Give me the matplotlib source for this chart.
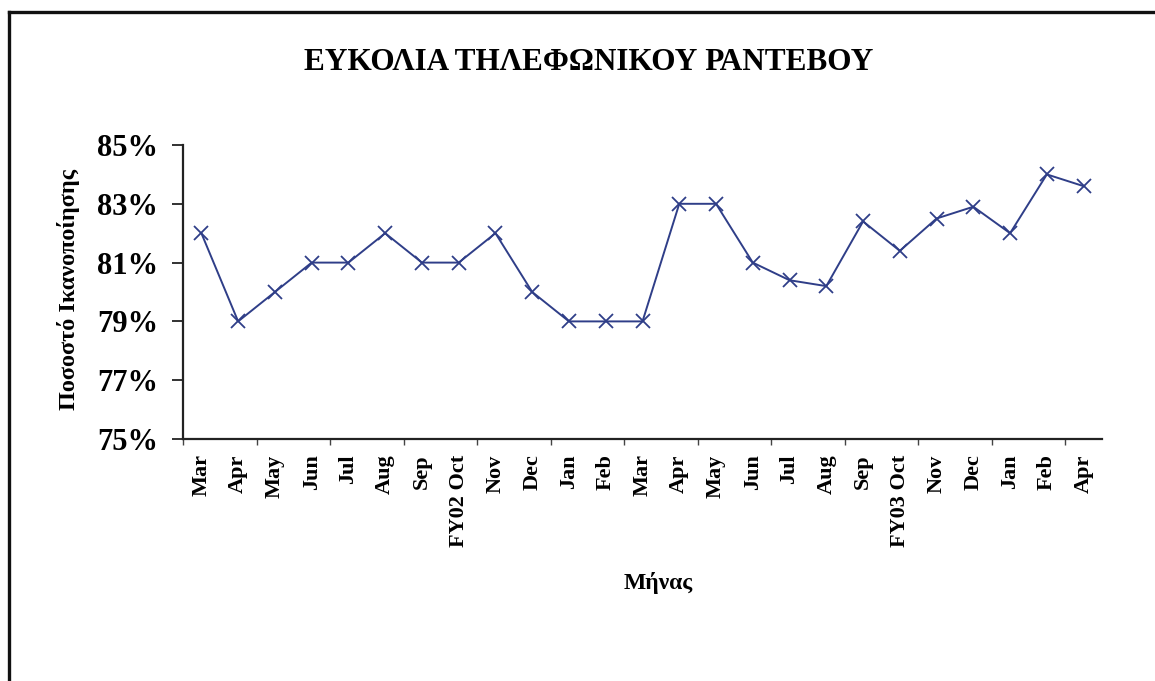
import matplotlib
matplotlib.use("Agg")
import matplotlib.pyplot as plt
from matplotlib.lines import Line2D
from matplotlib.ticker import FixedLocator, FuncFormatter

months = ["Mar", "Apr", "May", "Jun", "Jul", "Aug", "Sep", "FY02 Oct", "Nov",
          "Dec", "Jan", "Feb", "Mar", "Apr", "May", "Jun", "Jul", "Aug", "Sep",
          "FY03 Oct", "Nov", "Dec", "Jan", "Feb", "Apr"]
satisfaction = [82.0, 79.0, 80.0, 81.0, 81.0, 82.0, 81.0, 81.0, 82.0,
                80.0, 79.0, 79.0, 79.0, 83.0, 83.0, 81.0, 80.4, 80.2, 82.4,
                81.4, 82.5, 82.9, 82.0, 84.0, 83.6]
y_ticks = [75, 77, 79, 81, 83, 85]

title = "ΕΥΚΟΛΙΑ ΤΗΛΕΦΩΝΙΚΟΥ ΡΑΝΤΕΒΟΥ"
x_label = "Μήνας"
y_label = "Ποσοστό Ικανοποίησης"

plt.rcParams["font.family"] = ["Liberation Serif", "DejaVu Serif"]
plt.rcParams["font.weight"] = "bold"

W, H = 1155, 681
fig = plt.figure(figsize=(W / 100, H / 100), dpi=100)
fig.patch.set_facecolor("white")

# outer frame (top and left edges)
fig.add_artist(Line2D([9 / W, 9 / W], [0, 1 - 12 / H], transform=fig.transFigure,
                      color="#111111", lw=2.4, solid_capstyle="projecting"))
fig.add_artist(Line2D([9 / W, 1], [1 - 12 / H, 1 - 12 / H], transform=fig.transFigure,
                      color="#111111", lw=2.4, solid_capstyle="projecting"))

left, right = 183 / W, 1102 / W
bottom, top = 1 - 439 / H, 1 - 145 / H
ax = fig.add_axes([left, bottom, right - left, top - bottom])

x = list(range(len(months)))
ax.plot(x, satisfaction, color="#2F3E88", lw=1.4, marker="x", markersize=10,
        markeredgewidth=1.3, markeredgecolor="#2F3E88")

ax.set_xlim(-0.5, len(months) - 0.5)
ax.set_ylim(75, 85)

ax.set_yticks(y_ticks)
ax.yaxis.set_major_formatter(FuncFormatter(lambda v, p: f"{v:.0f}%"))
ax.tick_params(axis="y", which="major", length=8, width=1.3, direction="out",
               pad=10, labelsize=22, color="#222222")
for lab in ax.get_yticklabels():
    lab.set_fontweight("bold")

ax.set_xticks(x)
ax.set_xticklabels(months, rotation=90, fontsize=16, fontweight="bold")
ax.tick_params(axis="x", which="major", length=0, pad=11)
ax.xaxis.set_minor_locator(FixedLocator([b - 0.5 for b in range(0, len(months) + 1, 2)]))
ax.tick_params(axis="x", which="minor", length=4, width=1.0, direction="out",
               color="#444444")

for side in ("top", "right"):
    ax.spines[side].set_visible(False)
for side in ("left", "bottom"):
    ax.spines[side].set_linewidth(1.6)
    ax.spines[side].set_color("#222222")

fig.text(589 / W, 1 - 63 / H, title, ha="center", va="center",
         fontsize=22.5, fontweight="bold")
fig.text(658 / W, 1 - 583 / H, x_label, ha="center", va="center",
         fontsize=17, fontweight="bold")
fig.text(68 / W, 1 - 289 / H, y_label, ha="center", va="center",
         rotation=90, fontsize=17.5, fontweight="bold")

fig.savefig("out.png", dpi=100, facecolor="white")
